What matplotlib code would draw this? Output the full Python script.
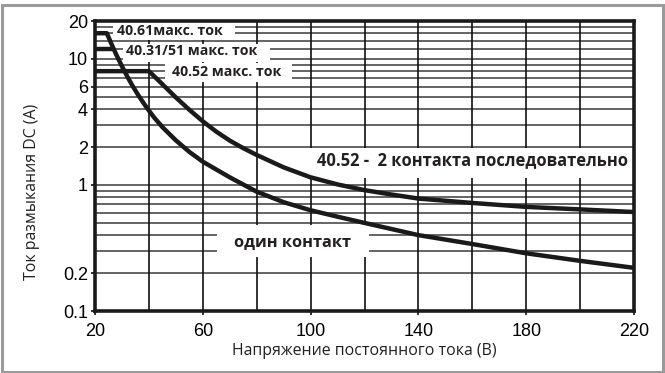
import matplotlib
matplotlib.use("Agg")
import matplotlib.pyplot as plt
from matplotlib.patches import Rectangle

# ---- data ----
upper_v = [20, 40, 45, 50, 55, 60, 65, 70, 75, 80, 90, 100, 110, 120, 130, 140, 160, 180, 200, 220]
upper_i = [8, 8, 6.3, 4.95, 3.95, 3.2, 2.65, 2.25, 1.96, 1.73, 1.38, 1.15, 1.01, 0.91, 0.84, 0.78, 0.72, 0.67, 0.64, 0.61]

lower_v = [20, 24.4, 26, 28, 30, 32, 34, 36, 38, 40, 42, 45, 50, 55, 60, 70, 80, 90, 100, 110, 120, 140, 160, 180, 200, 220]
lower_i = [16, 16, 13.3, 10.7, 8.75, 7.24, 6.08, 5.18, 4.47, 3.89, 3.42, 2.88, 2.26, 1.83, 1.53, 1.15, 0.885, 0.73, 0.63, 0.56, 0.50, 0.40, 0.34, 0.287, 0.25, 0.22]

max3151_v = [20, 27.0]
max3151_i = [12, 12]

xticks = [20, 60, 100, 140, 180, 220]
yticks = [0.1, 0.2, 1, 2, 4, 6, 10, 20]
ytick_labels = ["0.1", "0.2", "1", "2", "4", "6", "10", "20"]
hgrid = [0.2, 0.3, 0.4, 0.5, 0.6, 0.7, 0.8, 0.9, 1, 2, 3, 4, 5, 6, 7, 8, 9, 10, 12, 14, 16, 18]
vgrid = [40, 60, 80, 100, 120, 140, 160, 180, 200]

W, H = 665, 373
AX_L, AX_R, AX_T, AX_B = 95, 634, 21, 311

fig = plt.figure(figsize=(6.65, 3.73), dpi=100)
fig.patches.append(Rectangle((0.003, 0.004), 0.994, 0.982, transform=fig.transFigure,
                             fill=False, edgecolor="#9a9a9a", linewidth=2.2))
ax = fig.add_axes([AX_L / W, 1 - AX_B / H, (AX_R - AX_L) / W, (AX_B - AX_T) / H])
ax.set_yscale("log")
ax.set_xlim(20, 220)
ax.set_ylim(0.1, 20)

for g in hgrid:
    ax.axhline(g, color="#4a4a4a", lw=1.2, zorder=1)
for g in vgrid:
    ax.axvline(g, color="#111111", lw=1.2, zorder=1)


def white_box(x0, x1, y0, y1):
    """White label background, given in pixel positions of the figure."""
    fx0 = (x0 - AX_L) / (AX_R - AX_L)
    fx1 = (x1 - AX_L) / (AX_R - AX_L)
    fy0 = (AX_B - y1) / (AX_B - AX_T)
    fy1 = (AX_B - y0) / (AX_B - AX_T)
    ax.add_patch(Rectangle((fx0, fy0), fx1 - fx0, fy1 - fy0, transform=ax.transAxes,
                           facecolor="white", edgecolor="none", zorder=2))


white_box(113, 235, 20, 40)
white_box(123, 270, 44, 62)
white_box(165, 292, 63, 82)
white_box(305, 630, 148, 178)
white_box(217, 369, 225, 257)

ax.plot(upper_v, upper_i, color="#1a1a1a", lw=3.2, zorder=4, solid_capstyle="butt")
ax.plot(lower_v, lower_i, color="#1a1a1a", lw=3.2, zorder=4, solid_capstyle="butt")
ax.plot(max3151_v, max3151_i, color="#1a1a1a", lw=3.2, zorder=4, solid_capstyle="butt")

bfont = dict(family="Open Sans", weight="bold", color="#231f20", zorder=3,
             ha="left", va="center")
ax.text(28.1, 16.6, "40.61макс. ток", fontsize=10.2, **bfont)
ax.text(31.5, 11.6, "40.31/51 макс. ток", fontsize=10.2, **bfont)
ax.text(48.5, 7.9, "40.52 макс. ток", fontsize=10.2, **bfont)
ax.text(102.5, 1.57, "40.52 -  2 контакта последовательно", fontsize=11.9, **bfont)
ax.text(71.5, 0.345, "один контакт", fontsize=11.8, **bfont)

ax.set_xticks(xticks)
ax.set_xticklabels([str(t) for t in xticks], family="Liberation Sans", fontsize=13)
ax.set_yticks(yticks)
ax.set_yticklabels(ytick_labels, family="Liberation Sans", fontsize=13)
ax.yaxis.set_minor_locator(matplotlib.ticker.NullLocator())
ax.tick_params(axis="both", length=3, width=1.2, color="#111111", pad=2, direction="out")
ax.tick_params(axis="x", pad=6)

for s in ax.spines.values():
    s.set_linewidth(2.6)
    s.set_color("#1a1a1a")
    s.set_zorder(5)

ax.set_xlabel("Напряжение постоянного тока (В)", family="Open Sans", fontsize=11.4,
              color="#231f20", labelpad=2)
ax.set_ylabel("Ток размыкания DC (A)", family="Open Sans", fontsize=11.4,
              color="#231f20")
ax.yaxis.set_label_coords((40 - AX_L) / (AX_R - AX_L), (AX_B - 192) / (AX_B - AX_T))

fig.savefig("out.png", dpi=100)
